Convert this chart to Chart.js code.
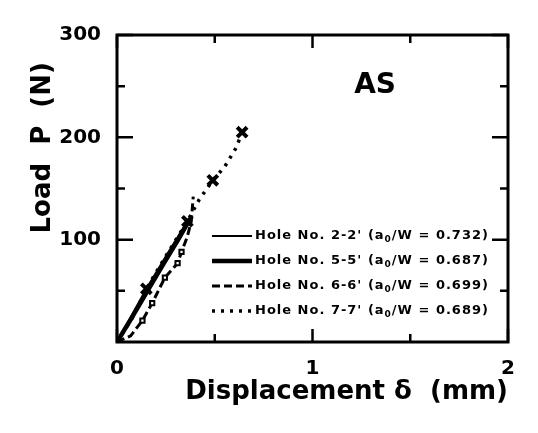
<!DOCTYPE html>
<html>
<head>
<meta charset="utf-8">
<script src="https://cdn.jsdelivr.net/npm/chart.js@4"></script>
<style>
  body { margin: 0; background: #fff; }
  #wrap { width: 538px; height: 433px; }
</style>
</head>
<body>
<div id="wrap"><canvas id="chart"></canvas></div>
<script>
// Datos
const seriesNames = ["Hole No. 2-2'", "Hole No. 5-5'", "Hole No. 6-6'", "Hole No. 7-7'"];
const ratios = ["0.732", "0.687", "0.699", "0.689"];

const x22 = [0, 0.05, 0.15, 0.26, 0.36];
const y22 = [0, 17, 52, 87, 118];
const x55 = [0, 0.07, 0.15, 0.24, 0.31, 0.37];
const y55 = [0, 22, 48, 77, 99, 119];
const x66 = [0, 0.07, 0.13, 0.18, 0.245, 0.31, 0.33, 0.36, 0.38, 0.39];
const y66 = [0, 6, 21, 38, 63, 77, 88, 103, 118, 142];
const x77 = [0, 0.08, 0.15, 0.25, 0.36, 0.42, 0.49, 0.55, 0.61, 0.64];
const y77 = [0, 24, 52, 84, 118, 139, 158, 171, 190, 205];
const marks77 = [0, 0, 1, 0, 1, 0, 1, 0, 0, 1];

const xMajor = [0, 1, 2];
const xMinor = [0.5, 1.5];
const yMajor = [100, 200, 300];
const yMinor = [50, 150, 250];

const FONT = "'DejaVu Sans', sans-serif";

function pts(xs, ys) {
  return xs.map((x, i) => ({ x: x, y: ys[i] }));
}

// Marco y marcas hacia dentro
const frameTicks = {
  id: "frameTicks",
  afterDatasetsDraw(chart) {
    const { ctx, chartArea: a, scales: { x, y } } = chart;
    ctx.save();
    ctx.strokeStyle = "#000";
    ctx.lineWidth = 3;
    ctx.strokeRect(a.left, a.top, a.right - a.left, a.bottom - a.top);
    ctx.lineWidth = 2.5;
    ctx.beginPath();
    const xt = (v, len) => {
      const px = x.getPixelForValue(v);
      ctx.moveTo(px, a.bottom); ctx.lineTo(px, a.bottom - len);
      ctx.moveTo(px, a.top); ctx.lineTo(px, a.top + len);
    };
    const yt = (v, len) => {
      const py = y.getPixelForValue(v);
      ctx.moveTo(a.left, py); ctx.lineTo(a.left + len, py);
      ctx.moveTo(a.right, py); ctx.lineTo(a.right - len, py);
    };
    xMajor.forEach(v => xt(v, 13));
    xMinor.forEach(v => xt(v, 8));
    yMajor.forEach(v => yt(v, 16));
    yMinor.forEach(v => yt(v, 8));
    ctx.stroke();

    // etiqueta AS
    ctx.fillStyle = "#000";
    ctx.font = "bold 28px " + FONT;
    ctx.textAlign = "center";
    ctx.textBaseline = "middle";
    ctx.fillText("AS", x.getPixelForValue(1.32), y.getPixelForValue(250));
    ctx.restore();
  }
};

// Leyenda dentro del gráfico
const innerLegend = {
  id: "innerLegend",
  afterDraw(chart) {
    const ctx = chart.ctx;
    ctx.save();
    chart.data.datasets.forEach((ds, i) => {
      const yy = 236 + 25 * i;
      ctx.strokeStyle = "#000";
      ctx.lineWidth = ds.borderWidth;
      ctx.setLineDash(ds.borderDash || []);
      ctx.beginPath();
      ctx.moveTo(212, yy);
      ctx.lineTo(252, yy);
      ctx.stroke();
      ctx.setLineDash([]);
      ctx.fillStyle = "#000";
      ctx.textBaseline = "middle";
      ctx.textAlign = "left";
      ctx.letterSpacing = "1px";
      ctx.font = "bold 13px " + FONT;
      let tx = 255;
      const a = seriesNames[i] + " (a";
      ctx.fillText(a, tx, yy);
      tx += ctx.measureText(a).width;
      ctx.font = "bold 9px " + FONT;
      ctx.fillText("0", tx, yy + 4);
      tx += ctx.measureText("0").width;
      ctx.font = "bold 13px " + FONT;
      ctx.fillText("/W = " + ratios[i] + ")", tx, yy);
    });
    ctx.restore();
  }
};

new Chart(document.getElementById("chart"), {
  type: "scatter",
  data: {
    datasets: [
      {
        label: seriesNames[0],
        data: pts(x22, y22),
        showLine: true,
        borderColor: "#000",
        borderWidth: 2,
        pointRadius: 0,
      },
      {
        label: seriesNames[1],
        data: pts(x55, y55),
        showLine: true,
        borderColor: "#000",
        borderWidth: 4.5,
        pointRadius: 0,
      },
      {
        label: seriesNames[2],
        data: pts(x66, y66),
        showLine: true,
        borderColor: "#000",
        borderWidth: 3,
        borderDash: [8, 4],
        pointStyle: "rect",
        pointRadius: x66.map((v, i) => (i > 1 && i < 7 ? 3 : 0)),
        pointBackgroundColor: "#fff",
        pointBorderColor: "#000",
        pointBorderWidth: 2,
      },
      {
        label: seriesNames[3],
        data: pts(x77, y77),
        showLine: true,
        borderColor: "#000",
        borderWidth: 3.5,
        borderDash: [3, 6],
        pointStyle: "crossRot",
        pointRadius: marks77.map(m => (m ? 7 : 0)),
        pointBorderColor: "#000",
        pointBorderWidth: 4,
      },
    ],
  },
  options: {
    responsive: true,
    maintainAspectRatio: false,
    animation: false,
    layout: { padding: { top: 35, right: 30, left: 0, bottom: 0 } },
    plugins: {
      legend: { display: false },
      tooltip: { enabled: false },
    },
    scales: {
      x: {
        type: "linear",
        min: 0,
        max: 2,
        grid: { display: false },
        border: { display: false },
        ticks: {
          stepSize: 1,
          color: "#000",
          padding: 7,
          font: { family: FONT, weight: "bold", size: 20 },
        },
        title: {
          display: true,
          text: "Displacement δ  (mm)",
          align: "end",
          color: "#000",
          font: { family: FONT, weight: "bold", size: 26 },
          padding: { top: 0, bottom: 25 },
        },
        afterFit: s => { s.height = 91; },
      },
      y: {
        min: 0,
        max: 300,
        grid: { display: false },
        border: { display: false },
        ticks: {
          stepSize: 100,
          color: "#000",
          padding: 8,
          font: { family: FONT, weight: "bold", size: 20 },
          callback: v => (v === 0 ? "" : v),
        },
        title: {
          display: true,
          text: "Load  P  (N)   ",
          align: "end",
          color: "#000",
          font: { family: FONT, weight: "bold", size: 26 },
          padding: { top: 28, bottom: 0 },
        },
        afterFit: s => { s.width = 117; },
      },
    },
  },
  plugins: [frameTicks, innerLegend],
});
</script>
</body>
</html>
